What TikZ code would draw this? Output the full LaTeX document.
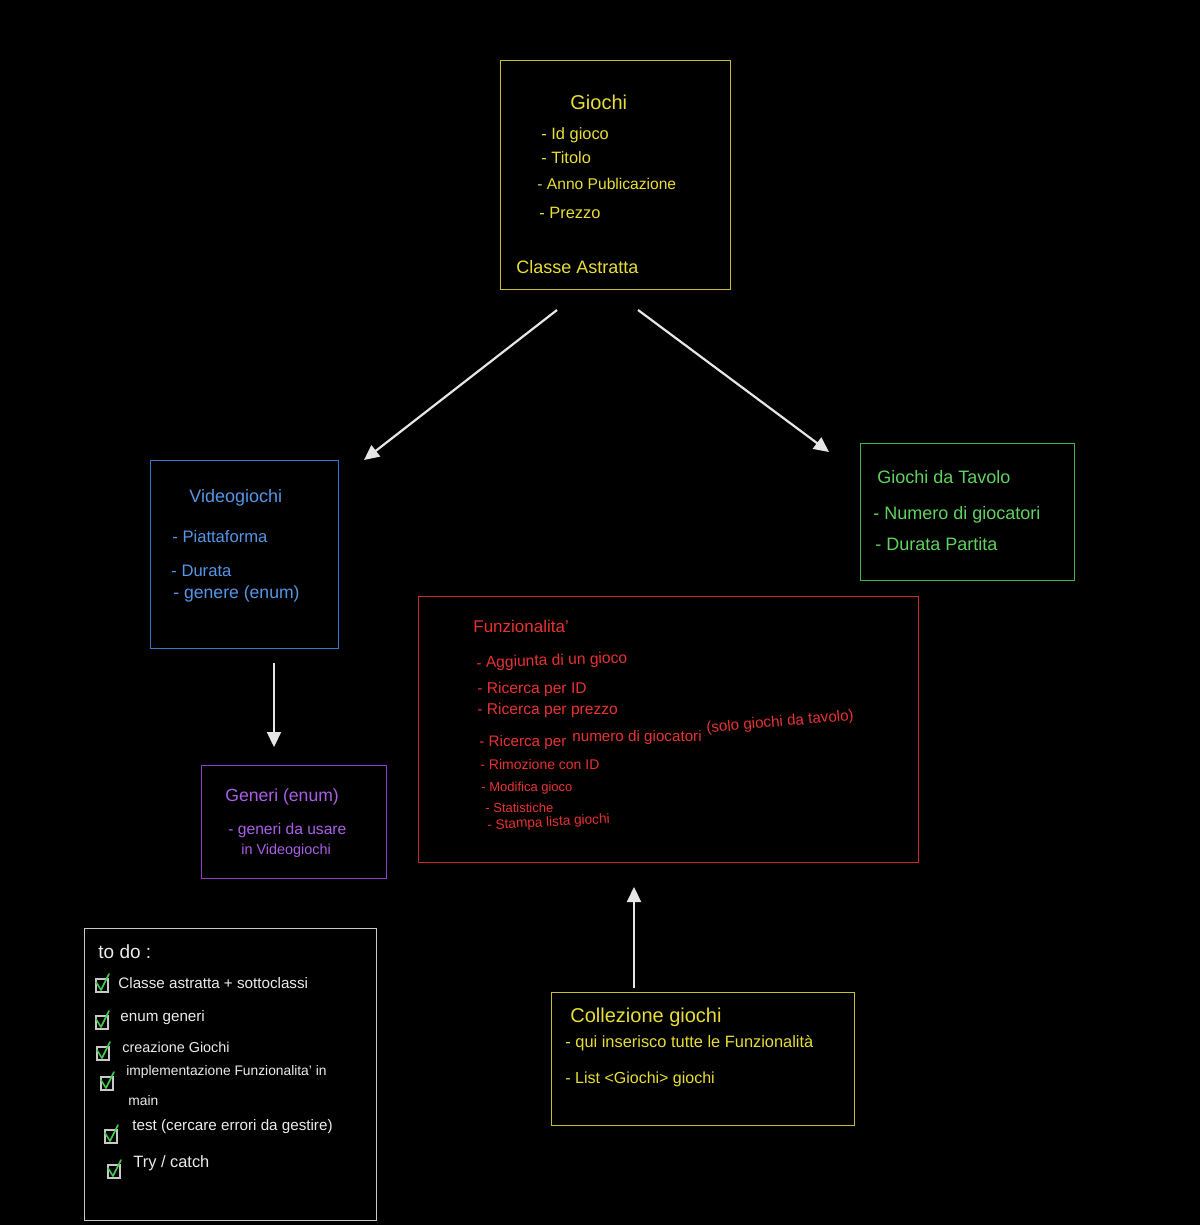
\documentclass[tikz,border=0pt]{standalone}
\usepackage{fontspec}
\setmainfont{Liberation Sans}
\usetikzlibrary{arrows.meta}
\newdimen\px \px=0.5pt
\definecolor{ybord}{RGB}{200,190,40}
\definecolor{ytext}{RGB}{232,222,55}
\definecolor{bbord}{RGB}{50,120,210}
\definecolor{btext}{RGB}{85,150,230}
\definecolor{gbord}{RGB}{60,180,70}
\definecolor{gtext}{RGB}{95,210,95}
\definecolor{rbord}{RGB}{200,40,40}
\definecolor{rtext}{RGB}{232,50,50}
\definecolor{pbord}{RGB}{140,60,200}
\definecolor{ptext}{RGB}{170,95,230}
\definecolor{wbord}{RGB}{200,200,200}
\definecolor{wtext}{RGB}{235,235,235}
\definecolor{arr}{RGB}{230,230,230}
\definecolor{chk}{RGB}{70,200,80}
\begin{document}
\begin{tikzpicture}[x=0.5pt,y=-0.5pt,
  boxs/.style={draw, line width=0.7pt, fill=none, inner sep=0, anchor=north west},
  txt/.style={anchor=west, inner sep=0},
  fs/.style={font=\fontsize{#1}{#1}\selectfont},
  conn/.style={draw=arr, line width=1.1pt, -{Triangle[length=7.5pt,width=7pt]}},
  cbox/.style={draw=wbord, line width=0.7pt},
  cmark/.style={draw=chk, line width=0.8pt, line cap=round, line join=round}]
\fill[black] (0,0) rectangle (1200,1225);
\useasboundingbox (0,0) rectangle (1200,1225);
% boxes
\node[boxs, draw=ybord, minimum width=230\px, minimum height=229\px] (giochi) at (500,60) {};
\node[boxs, draw=bbord, minimum width=188\px, minimum height=188\px] (video) at (150,460) {};
\node[boxs, draw=gbord, minimum width=214\px, minimum height=137\px] (tavolo) at (860,443) {};
\node[boxs, draw=rbord, minimum width=500\px, minimum height=266\px] (funz) at (418,596) {};
\node[boxs, draw=pbord, minimum width=185\px, minimum height=113\px] (generi) at (201,765) {};
\node[boxs, draw=wbord, minimum width=292\px, minimum height=292\px] (todo) at (84,928) {};
\node[boxs, draw=ybord, minimum width=303\px, minimum height=133\px] (coll) at (551,992) {};
% Giochi text
\node[txt, text=ytext, fs=10] (g0) at (570,102) {Giochi};
\node[txt, text=ytext, fs=8.2] (g1) at (541,135) {- Id gioco};
\node[txt, text=ytext, fs=8.2] (g2) at (541,158) {- Titolo};
\node[txt, text=ytext, fs=7.8] (g3) at (537,184) {- Anno Publicazione};
\node[txt, text=ytext, fs=8.2] (g4) at (539,213) {- Prezzo};
\node[txt, text=ytext, fs=9] (g5) at (516,267) {Classe Astratta};
% Videogiochi text
\node[txt, text=btext, fs=9] (v0) at (189,498) {Videogiochi};
\node[txt, text=btext, fs=8.3] (v1) at (172,537) {- Piattaforma};
\node[txt, text=btext, fs=8.3] (v2) at (171,571) {- Durata};
\node[txt, text=btext, fs=8.8] (v3) at (173,594) {- genere (enum)};
% Giochi da Tavolo text
\node[txt, text=gtext, fs=9] (t0) at (877,477) {Giochi da Tavolo};
\node[txt, text=gtext, fs=9] (t1) at (873,515) {- Numero di giocatori};
\node[txt, text=gtext, fs=9] (t2) at (875,544) {- Durata Partita};
% Funzionalita text
\node[txt, text=rtext, fs=8.5] (f0) at (473,626) {Funzionalita'};
\node[txt, text=rtext, fs=7.8, rotate=2] (f1) at (476,664) {- Aggiunta di un gioco};
\node[txt, text=rtext, fs=7.8] (f2) at (477,689) {- Ricerca per ID};
\node[txt, text=rtext, fs=7.8] (f3) at (477,710) {- Ricerca per prezzo};
\node[txt, text=rtext, fs=7.6] (f4a) at (479,743) {- Ricerca per};
\node[txt, text=rtext, fs=7.6] (f4b) at (572,738) {numero di giocatori};
\node[txt, text=rtext, fs=7.6, rotate=5] (f4c) at (706,729) {(solo giochi da tavolo)};
\node[txt, text=rtext, fs=7] (f5) at (480,764) {- Rimozione con ID};
\node[txt, text=rtext, fs=6.5] (f6) at (481,788) {- Modifica gioco};
\node[txt, text=rtext, fs=6.5] (f7) at (485,808) {- Statistiche};
\node[txt, text=rtext, fs=6.8, rotate=3] (f8) at (487,826) {- Stampa lista giochi};
% Generi text
\node[txt, text=ptext, fs=8.8] (n0) at (225,797) {Generi (enum)};
\node[txt, text=ptext, fs=7.8] (n1) at (228,830) {- generi da usare};
\node[txt, text=ptext, fs=7.2] (n2) at (241,851) {in Videogiochi};
% To do text
\node[txt, text=wtext, fs=9.5] (d0) at (98,952) {to do :};
\node[txt, text=wtext, fs=7.6] (d1) at (118,983) {Classe astratta + sottoclassi};
\node[txt, text=wtext, fs=7.6] (d2) at (120,1018) {enum generi};
\node[txt, text=wtext, fs=7.2] (d3) at (122,1047) {creazione Giochi};
\node[txt, text=wtext, fs=6.9] (d4) at (126,1072) {implementazione Funzionalita' in};
\node[txt, text=wtext, fs=6.9] (d5) at (128,1101) {main};
\node[txt, text=wtext, fs=7.6] (d6) at (132,1127) {test (cercare errori da gestire)};
\node[txt, text=wtext, fs=8.2] (d7) at (133,1163) {Try / catch};
% checkboxes
\foreach \cx/\cy in {102/985, 102/1022, 103/1053, 107/1083, 111/1136, 114/1171}{
  \begin{scope}[shift={(\cx,\cy)}]
    \draw[cbox] (-6,-6) rectangle (6,7);
    \draw[cmark] (-6,-3) -- (-1,5) -- (7,-11);
  \end{scope}
}
% Collezione text
\node[txt, text=ytext, fs=10] (c0) at (570,1017) {Collezione giochi};
\node[txt, text=ytext, fs=8.2] (c1) at (565,1043) {- qui inserisco tutte le Funzionalità};
\node[txt, text=ytext, fs=8] (c2) at (565,1079) {- List <Giochi> giochi};
% arrow endpoints
\coordinate (a1s) at (557,310);
\coordinate (a1e) at (364,460);
\coordinate (a2s) at (638,310);
\coordinate (a2e) at (829,452);
\coordinate (a3s) at (274,663);
\coordinate (a3e) at (274,747);
\coordinate (a4s) at (634,988);
\coordinate (a4e) at (634,887);
\draw[conn] (a1s) -- (a1e);
\draw[conn] (a2s) -- (a2e);
\draw[conn] (a3s) -- (a3e);
\draw[conn] (a4s) -- (a4e);
\end{tikzpicture}
\end{document}
